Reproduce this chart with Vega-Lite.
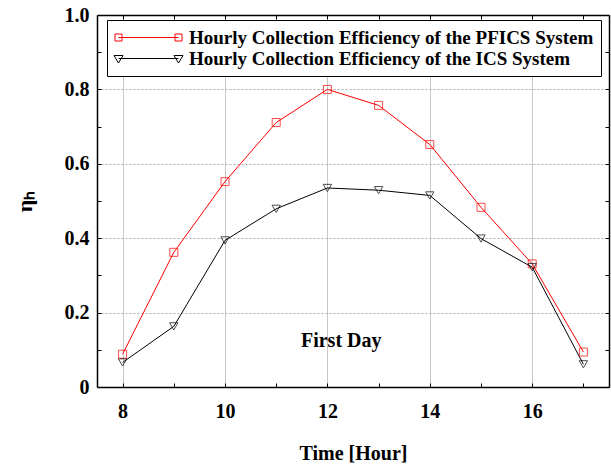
{
  "$schema": "https://vega.github.io/schema/vega-lite/v6.json",
  "width": 512,
  "height": 372,
  "autosize": {"type": "none"},
  "padding": {"left": 97, "top": 15, "right": 2, "bottom": 77},
  "background": "white",
  "config": {
    "view": {"stroke": null},
    "font": "Liberation Serif",
    "axis": {
      "labelFont": "Liberation Serif",
      "labelFontWeight": "bold",
      "labelFontSize": 20,
      "labelColor": "black",
      "titleFont": "Liberation Serif",
      "titleFontWeight": "bold",
      "titleColor": "black",
      "domainColor": "black",
      "domainWidth": 1.5,
      "tickColor": "black",
      "tickSize": -4,
      "labelFlush": false,
      "labelOverlap": false
    }
  },
  "data": {
    "values": [
      {"hour": 8, "series": "PFICS", "eta": 0.088},
      {"hour": 9, "series": "PFICS", "eta": 0.362},
      {"hour": 10, "series": "PFICS", "eta": 0.552},
      {"hour": 11, "series": "PFICS", "eta": 0.711},
      {"hour": 12, "series": "PFICS", "eta": 0.800},
      {"hour": 13, "series": "PFICS", "eta": 0.757},
      {"hour": 14, "series": "PFICS", "eta": 0.652},
      {"hour": 15, "series": "PFICS", "eta": 0.483},
      {"hour": 16, "series": "PFICS", "eta": 0.331},
      {"hour": 17, "series": "PFICS", "eta": 0.094},
      {"hour": 8, "series": "ICS", "eta": 0.066},
      {"hour": 9, "series": "ICS", "eta": 0.163},
      {"hour": 10, "series": "ICS", "eta": 0.394},
      {"hour": 11, "series": "ICS", "eta": 0.479},
      {"hour": 12, "series": "ICS", "eta": 0.535},
      {"hour": 13, "series": "ICS", "eta": 0.529},
      {"hour": 14, "series": "ICS", "eta": 0.515},
      {"hour": 15, "series": "ICS", "eta": 0.399},
      {"hour": 16, "series": "ICS", "eta": 0.322},
      {"hour": 17, "series": "ICS", "eta": 0.061}
    ]
  },
  "layer": [
    {
      "mark": {"type": "line", "strokeWidth": 1},
      "encoding": {
        "x": {
          "field": "hour", "type": "quantitative",
          "scale": {"domain": [7.5, 17.5], "nice": false, "zero": false},
          "axis": {
            "orient": "bottom",
            "values": [8, 9, 10, 11, 12, 13, 14, 15, 16, 17],
            "labelExpr": "datum.value % 2 === 0 ? datum.label : ''",
            "labelPadding": 18,
            "title": "Time [Hour]",
            "titleFontSize": 20,
            "titlePadding": 22,
            "grid": true,
            "gridColor": "#c8c8c8",
            "gridWidth": 1,
            "gridOpacity": {"condition": {"test": "datum.value % 2 === 0", "value": 1}, "value": 0}
          }
        },
        "y": {
          "field": "eta", "type": "quantitative",
          "scale": {"domain": [0, 1], "nice": false},
          "axis": {
            "orient": "left",
            "values": [0, 0.1, 0.2, 0.3, 0.4, 0.5, 0.6, 0.7, 0.8, 0.9, 1.0],
            "labelExpr": "round(datum.value * 10) % 2 === 0 ? (datum.value === 0 ? '0' : format(datum.value, '.1f')) : ''",
            "labelPadding": 12,
            "title": "ηₕ",
            "titleFontSize": 22,
            "titlePadding": 28,
            "grid": true,
            "gridColor": "#aaaaaa",
            "gridDash": [2, 2],
            "gridWidth": 1,
            "gridOpacity": {"condition": {"test": "round(datum.value * 10) % 2 === 0 && datum.value > 0 && datum.value < 1", "value": 1}, "value": 0}
          }
        },
        "color": {
          "field": "series", "type": "nominal",
          "scale": {"domain": ["PFICS", "ICS"], "range": ["#ff0000", "#000000"]},
          "legend": {
            "orient": "none",
            "legendX": 10,
            "legendY": 5,
            "title": null,
            "labelExpr": "datum.value === 'PFICS' ? 'Hourly Collection Efficiency of the PFICS System' : 'Hourly Collection Efficiency of the ICS System'",
            "labelFont": "Liberation Serif",
            "labelFontSize": 19,
            "labelFontWeight": "bold",
            "labelColor": "black",
            "labelLimit": 600,
            "symbolSize": 400,
            "symbolStrokeWidth": 1,
            "symbolType": "M-3,0H3M-3.35,-0.35H-2.65V0.35H-3.35ZM2.65,-0.35H3.35V0.35H2.65Z",
            "symbolOffset": 24,
            "labelOffset": 30,
            "strokeColor": "black",
            "fillColor": "white",
            "padding": 7,
            "rowPadding": 0,
            "encode": {
              "symbols": {
                "update": {
                  "shape": {"signal": "datum.value === 'PFICS' ? 'M-3,0H3M-3.35,-0.35H-2.65V0.35H-3.35ZM2.65,-0.35H3.35V0.35H2.65Z' : 'M-3,0H3M-3.45,-0.3H-2.55L-3,0.45ZM2.55,-0.3H3.45L3,0.45Z'"}
                }
              }
            }
          }
        }
      }
    },
    {
      "transform": [{"filter": "datum.series === 'PFICS'"}],
      "mark": {"type": "point", "shape": "square", "filled": false, "size": 64, "strokeWidth": 1, "color": "#ff0000"},
      "encoding": {
        "x": {
          "field": "hour", "type": "quantitative",
          "axis": {"orient": "top", "values": [8, 9, 10, 11, 12, 13, 14, 15, 16, 17], "labels": false, "title": null, "grid": false}
        },
        "y": {
          "field": "eta", "type": "quantitative",
          "axis": {"orient": "right", "values": [0, 0.1, 0.2, 0.3, 0.4, 0.5, 0.6, 0.7, 0.8, 0.9, 1.0], "labels": false, "title": null, "grid": false}
        }
      }
    },
    {
      "transform": [{"filter": "datum.series === 'ICS'"}],
      "mark": {"type": "point", "shape": "triangle-down", "filled": false, "size": 70, "strokeWidth": 1, "color": "#000000"},
      "encoding": {
        "x": {"field": "hour", "type": "quantitative", "axis": null},
        "y": {"field": "eta", "type": "quantitative", "axis": null}
      }
    },
    {
      "data": {"values": [{}]},
      "mark": {"type": "text", "text": "First Day", "font": "Liberation Serif", "fontWeight": "bold", "fontSize": 20, "color": "black", "align": "center", "baseline": "middle"},
      "encoding": {
        "x": {"datum": 12.27, "type": "quantitative", "axis": null},
        "y": {"datum": 0.123, "type": "quantitative", "axis": null}
      }
    }
  ],
  "resolve": {"axis": {"x": "independent", "y": "independent"}}
}
